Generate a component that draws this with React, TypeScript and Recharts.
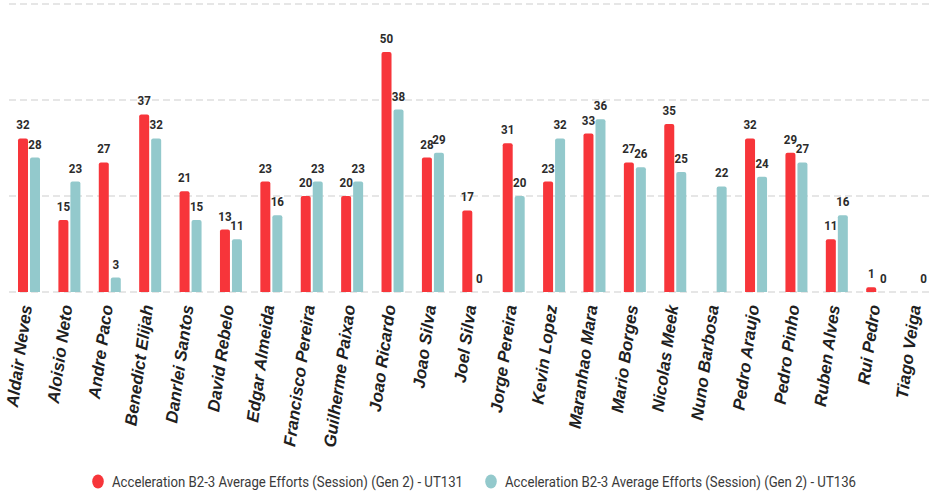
import React from "react";
import {
  BarChart,
  Bar,
  XAxis,
  YAxis,
  CartesianGrid,
  Legend,
  LabelList,
  Rectangle,
} from "recharts";

const players = [
  "Aldair Neves",
  "Aloisio Neto",
  "Andre Paco",
  "Benedict Elijah",
  "Danrlei Santos",
  "David Rebelo",
  "Edgar Almeida",
  "Francisco Pereira",
  "Guilherme Paixao",
  "Joao Ricardo",
  "Joao Silva",
  "Joel Silva",
  "Jorge Pereira",
  "Kevin Lopez",
  "Maranhao Mara",
  "Mario Borges",
  "Nicolas Meek",
  "Nuno Barbosa",
  "Pedro Araujo",
  "Pedro Pinho",
  "Ruben Alves",
  "Rui Pedro",
  "Tiago Veiga",
];

const ut131 = [32, 15, 27, 37, 21, 13, 23, 20, 20, 50, 28, 17, 31, 23, 33, 27, 35, null, 32, 29, 11, 1, null];
const ut136 = [28, 23, 3, 32, 15, 11, 16, 23, 23, 38, 29, 0, 20, 32, 36, 26, 25, 22, 24, 27, 16, 0, 0];

const yTicks = [0, 20, 40, 60];

const SERIES = [
  { key: "ut131", name: "Acceleration B2-3 Average Efforts (Session) (Gen 2) - UT131", color: "#f7353a" },
  { key: "ut136", name: "Acceleration B2-3 Average Efforts (Session) (Gen 2) - UT136", color: "#93c9cc" },
];

const data = players.map((name, i) => ({
  name,
  ut131: ut131[i],
  ut136: ut136[i],
}));

const AngledTick = (props: any) => {
  const { x, y, payload } = props;
  return (
    <g transform={`translate(${x - 3},${y + 5})`}>
      <text
        textAnchor="end"
        dy="0.35em"
        transform="rotate(-82)"
        fontFamily="'Liberation Sans', Arial, sans-serif"
        fontStyle="italic"
        fontWeight="bold"
        fontSize={17}
        fill="#1f1f1f"
      >
        {payload.value}
      </text>
    </g>
  );
};

const legendPos = [89, 482];

const LegendContent = () => (
  <svg width={920} height={28} style={{ display: "block" }}>
    {SERIES.map((s, i) => {
      const x0 = legendPos[i];
      return (
        <g key={s.key}>
          <ellipse cx={x0} cy={18.5} rx={5.8} ry={7} fill={s.color} />
          <g transform={`translate(${x0 + 14},24) scale(0.88,1)`}>
            <text fontFamily="Roboto, sans-serif" fontSize={15} fill="#3a3a3a">
              {s.name}
            </text>
          </g>
        </g>
      );
    })}
  </svg>
);

const ValueLabel = (props: any) => {
  const { x, y, width, value } = props;
  if (value === null || value === undefined) return null;
  const cx = x + width / 2;
  return (
    <g transform={`translate(${cx},${y - 9})`}>
      <text
        transform="scale(0.86,1)"
        textAnchor="middle"
        fontFamily="Roboto, sans-serif"
        fontWeight="bold"
        fontSize={13.5}
        fill="#2b2b2b"
      >
        {value}
      </text>
    </g>
  );
};

// zero values get a tiny height so the label still gets a position, but the bar isn't painted
const BarShape = (props: any) => {
  if (!props.value) return null;
  return <Rectangle {...props} />;
};

export default function App() {
  return (
    <div style={{ position: "absolute", left: 0, top: 0, width: 930, height: 497, overflow: "hidden", background: "#fff" }}>
      <BarChart
        width={938}
        height={497}
        data={data}
        margin={{ top: 4, right: 0, left: 9, bottom: 6 }}
        barSize={10}
        barGap={2}
      >
        <CartesianGrid vertical={false} stroke="#dedede" strokeDasharray="7 4" strokeWidth={1.5} />
        <YAxis hide domain={[0, 60]} ticks={yTicks} />
        <XAxis
          dataKey="name"
          interval={0}
          axisLine={false}
          tickLine={false}
          height={171}
          tick={<AngledTick />}
        />
        <Legend verticalAlign="bottom" height={28} content={<LegendContent />} />
        {SERIES.map((s) => (
          <Bar
            key={s.key}
            dataKey={s.key}
            name={s.name}
            fill={s.color}
            radius={[2, 2, 0, 0]}
            minPointSize={(v: any) => (v === 0 ? 0.5 : 0)}
            shape={<BarShape />}
            isAnimationActive={false}
          >
            <LabelList dataKey={s.key} content={<ValueLabel />} />
          </Bar>
        ))}
      </BarChart>
    </div>
  );
}
